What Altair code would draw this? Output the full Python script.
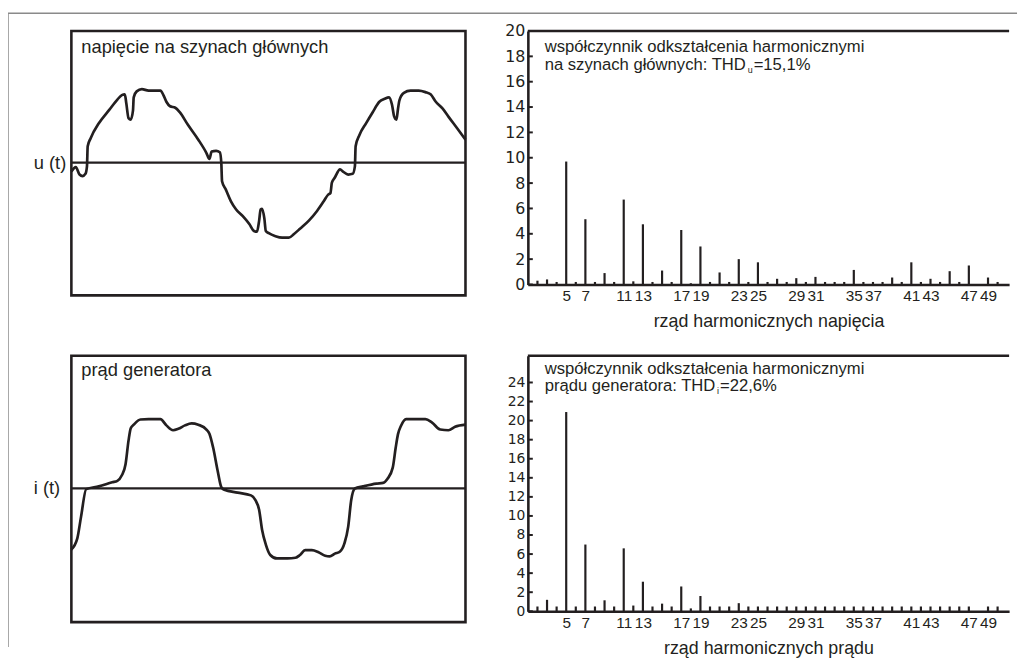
import altair as alt
import pandas as pd

FONT = "Liberation Sans"
INK = "#231f20"
FRAME = "#8a8a8a"

# ---- waveform: voltage on main busbars (angle in electrical degrees, value in p.u.)
U_T = [0, 6, 11, 15, 19, 21, 22, 26, 37, 51, 62, 68, 72, 74, 77, 80, 83, 84, 88, 95,
       104, 113, 120, 124, 128, 133, 140, 146, 157, 171, 182, 186, 189, 195, 200, 202,
       203, 208, 215, 222, 231, 240, 246, 250, 253, 255, 257, 260, 262, 266, 275, 284,
       293, 300, 308, 320, 331, 340, 346, 349, 351, 355, 362, 366, 373, 379, 382, 383,
       388, 397, 406, 415, 422, 428, 432, 435, 438, 440, 442, 448, 457, 468, 477, 484,
       491, 500, 508, 520, 531]
U_V = [-0.12, -0.06, -0.16, -0.18, -0.15, -0.05, 0.22, 0.33, 0.53, 0.71, 0.85, 0.91, 0.92,
       0.80, 0.60, 0.58, 0.70, 0.88, 0.96, 0.99, 0.97, 0.97, 0.97, 0.91, 0.82, 0.76, 0.74,
       0.68, 0.51, 0.31, 0.13, 0.05, 0.15, 0.16, 0.14, 0.0, -0.25, -0.36, -0.52, -0.63,
       -0.72, -0.83, -0.92, -0.93, -0.78, -0.63, -0.62, -0.75, -0.92, -0.95, -0.99, -1.01,
       -1.01, -0.96, -0.89, -0.78, -0.65, -0.52, -0.43, -0.41, -0.27, -0.20, -0.09, -0.12,
       -0.16, -0.15, -0.05, 0.22, 0.37, 0.53, 0.68, 0.82, 0.86, 0.88, 0.78, 0.62, 0.58,
       0.72, 0.84, 0.94, 0.97, 0.97, 0.95, 0.92, 0.82, 0.73, 0.62, 0.46, 0.31]

# ---- waveform: generator current
I_T = [0, 8, 13, 20, 37, 55, 62, 68, 73, 77, 80, 84, 93, 104, 120, 128, 137, 144, 153,
       162, 171, 182, 186, 191, 197, 202, 206, 224, 242, 248, 253, 257, 262, 268, 277,
       291, 302, 308, 315, 324, 333, 342, 348, 355, 362, 368, 373, 377, 382, 393, 411,
       420, 426, 433, 437, 440, 444, 451, 464, 477, 486, 497, 508, 517, 531]
I_V = [-0.88, -0.72, -0.41, -0.01, 0.03, 0.09, 0.11, 0.19, 0.35, 0.69, 0.87, 0.92, 0.995,
       1.0, 1.0, 0.91, 0.84, 0.86, 0.91, 0.94, 0.92, 0.85, 0.79, 0.59, 0.26, 0.02, -0.02,
       -0.06, -0.10, -0.17, -0.31, -0.60, -0.81, -0.96, -1.01, -1.01, -1.0, -0.96, -0.89,
       -0.89, -0.92, -0.97, -0.98, -0.94, -0.91, -0.79, -0.55, -0.17, 0.0, 0.03, 0.07,
       0.08, 0.14, 0.30, 0.59, 0.78, 0.90, 1.0, 1.0, 1.0, 0.95, 0.85, 0.84, 0.89, 0.92]

# ---- harmonic spectra (orders 2..50, % of fundamental)
H = list(range(2, 51))
U_H = [0.3, 0.4, 0.2, 9.7, 0.2, 5.15, 0.2, 0.9, 0.2, 6.7, 0.25, 4.75, 0.2, 1.1, 0.2, 4.3,
       0.1, 3.0, 0.2, 0.95, 0.2, 2.0, 0.2, 1.75, 0.2, 0.45, 0.2, 0.5, 0.2, 0.6, 0.2, 0.2,
       0.2, 1.15, 0.2, 0.2, 0.2, 0.55, 0.2, 1.75, 0.2, 0.45, 0.2, 1.05, 0.2, 1.5, 0.0,
       0.55, 0.2]
I_H = [0.5, 1.2, 0.5, 20.9, 0.5, 7.0, 0.5, 1.15, 0.5, 6.6, 0.6, 3.1, 0.5, 0.8, 0.5, 2.6,
       0.3, 1.6, 0.5, 0.5, 0.5, 0.85, 0.5, 0.5, 0.5, 0.5, 0.5, 0.5, 0.5, 0.5, 0.5, 0.5,
       0.5, 0.5, 0.5, 0.5, 0.5, 0.5, 0.5, 0.5, 0.5, 0.5, 0.5, 0.5, 0.5, 0.5, 0.0, 0.5,
       0.5]
U_TICKS = list(range(0, 21, 2))
I_TICKS = list(range(0, 25, 2))
X_LABELS = [5, 7, 11, 13, 17, 19, 23, 25, 29, 31, 35, 37, 41, 43, 47, 49]

ONE = pd.DataFrame({"z": [0.0]})


def txt(text, x, y, size, align="left"):
    return alt.Chart(ONE).mark_text(
        text=text, align=align, baseline="middle", font=FONT, fontSize=size, color=INK
    ).encode(x=alt.value(x), y=alt.value(y))


def wave_panel(t, v, ydom, w, h, title, title_y, ylab, frame=False):
    df = pd.DataFrame({"t": t, "v": v})
    xs = alt.Scale(domain=[0, 531], nice=False, zero=False)
    ys = alt.Scale(domain=ydom, nice=False, zero=False)
    line = alt.Chart(df).mark_line(
        color=INK, strokeWidth=2.7, interpolate="monotone", strokeJoin="round"
    ).encode(
        x=alt.X("t:Q", scale=xs, axis=None),
        y=alt.Y("v:Q", scale=ys, axis=None),
    )
    zero = alt.Chart(ONE).mark_rule(color=INK, strokeWidth=2.2).encode(
        x=alt.value(0), x2=alt.value(w), y=alt.Y("z:Q", scale=ys, axis=None)
    )
    lab = alt.Chart(ONE).mark_text(
        text=ylab, align="left", baseline="middle", font=FONT, fontSize=18.5, color=INK
    ).encode(x=alt.value(-38), y=alt.Y("z:Q", scale=ys, axis=None))
    layers = [line, zero, lab, txt(title, 10, title_y, 18.5)]
    if frame:
        layers.append(alt.Chart(ONE).mark_rule(color=FRAME, strokeWidth=1.5).encode(
            x=alt.value(-64), y=alt.value(-18), y2=alt.value(622)))
        layers.append(alt.Chart(ONE).mark_rule(color=FRAME, strokeWidth=1.5).encode(
            x=alt.value(-64), x2=alt.value(955), y=alt.value(-18)))
    return alt.layer(*layers).properties(
        width=w, height=h, view=alt.ViewBackground(stroke=INK, strokeWidth=2.6)
    )


def right_panel(vals, ymax, ticks, h, xtitle, l1, l2a, subtxt, l2b, y1, y2, subx, gap, ylabsize):
    w = 486
    df = pd.DataFrame({"h": H, "v": vals, "z": [0.0] * len(H)})
    xs = alt.Scale(domain=[1, 51.2], nice=False, zero=False)
    ys = alt.Scale(domain=[0, ymax], nice=False)
    yaxis = alt.Axis(
        values=ticks, title=None, ticks=False, grid=False, labelFlush=False,
        labelOverlap=False, domainColor=INK, domainWidth=2.6, labelFont="DejaVu Sans",
        labelFontSize=ylabsize, labelColor=INK, labelPadding=3)
    bars = alt.Chart(df).mark_rule(color=INK, strokeWidth=2.2).encode(
        x=alt.X("h:Q", scale=xs, axis=alt.Axis(
            values=X_LABELS, title=xtitle, ticks=False, grid=False, labelFlush=False,
            labelOverlap=False, domainColor=INK, domainWidth=2.6, labelFont=FONT,
            labelFontSize=15.5, labelColor=INK, labelPadding=4, titleFont=FONT,
            titleFontSize=18, titleFontWeight="normal", titleColor=INK, titlePadding=9)),
        y=alt.Y("v:Q", scale=ys, axis=yaxis),
        y2=alt.Y2("z:Q"),
    )
    tk = alt.Chart(pd.DataFrame({"v": ticks})).mark_rule(color=INK, strokeWidth=2).encode(
        x=alt.value(0), x2=alt.value(5), y=alt.Y("v:Q", scale=ys, axis=yaxis)
    )
    top = alt.Chart(ONE).mark_rule(color=INK, strokeWidth=2.4).encode(
        x=alt.value(0), x2=alt.value(w), y=alt.value(0)
    )
    t1 = txt(l1, 17, y1, 16.8)
    t2 = txt(l2a, 17, y2, 16.8)
    s = txt(subtxt, subx, y2 + 5, 9)
    rest = txt(l2b, subx + gap, y2, 16.8)
    return alt.layer(bars, tk, top, t1, t2, s, rest).properties(width=w, height=h)


A = wave_panel(U_T, U_V, [-1.787, 1.773], 398, 267,
               "napięcie na szynach głównych", 16, "u (t)", frame=True)
C = wave_panel(I_T, I_V, [-1.929, 1.914], 398, 269,
               "prąd generatora", 14, "i (t)")
B = right_panel(U_H, 20, U_TICKS, 256, "rząd harmonicznych napięcia",
                "współczynnik odkształcenia harmonicznymi",
                "na szynach głównych: THD", "u", "=15,1%", 16, 34, 222, 6, 16)
D = right_panel(I_H, 26.8, I_TICKS, 258, "rząd harmonicznych prądu",
                "współczynnik odkształcenia harmonicznymi",
                "prądu generatora: THD", "i", "=22,6%", 13, 31, 191, 3, 14)

chart = alt.concat(
    A, B, C, D, columns=2, spacing={"row": 61, "column": 63}, bounds="flush", align="each"
).configure_view(stroke=None).properties(
    padding={"left": -3, "top": -1, "right": 0, "bottom": 0}
)

chart.save("out.html", embed_options={"renderer": "svg", "actions": False})
